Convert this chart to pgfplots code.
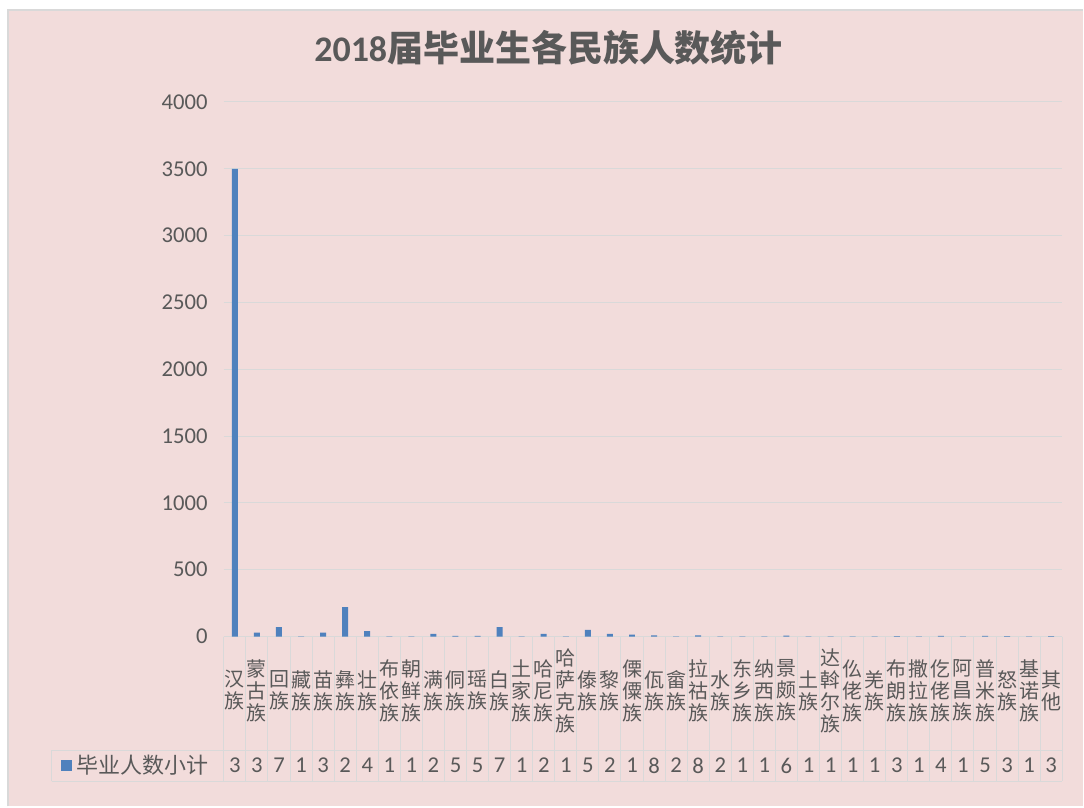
\documentclass[border=0pt]{standalone}
\usepackage{fontspec}
\usepackage{pgfplots}
\pgfplotsset{compat=1.18}
\setmainfont{Noto Sans CJK SC}
\newfontfamily\lat{Carlito}
\definecolor{bg}{RGB}{242,220,219}
\definecolor{barc}{RGB}{79,129,189}
\definecolor{txt}{RGB}{89,89,89}
\definecolor{gridc}{RGB}{217,217,217}
\begin{document}
\begin{tikzpicture}[x=0.75pt,y=0.75pt]
\fill[white] (0,0) rectangle (1084,807);
\fill[bg] (8,0) rectangle (1084,797);
\draw[gridc, line width=1.2pt] (8,0) -- (8,797) -- (1084,797);
\node[txt, font=\fontsize{27}{32}\selectfont\bfseries] at (549,759) {{\lat 2018}届毕业生各民族人数统计};
\begin{axis}[at={(168pt,127.5pt)}, anchor=south west, scale only axis,
  width=629.25pt, height=401.25pt,
  xmin=-0.5, xmax=37.5, ymin=0, ymax=4000,
  ytick={0,500,...,4000}, ymajorgrids,
  grid style={draw=gridc, line width=0.75pt},
  axis line style={draw=none}, major tick length=0pt,
  xtick={0,...,37},
  xticklabels={{汉\\族},{蒙\\古\\族},{回\\族},{藏\\族},{苗\\族},{彝\\族},{壮\\族},{布\\依\\族},{朝\\鲜\\族},{满\\族},{侗\\族},{瑶\\族},{白\\族},{土\\家\\族},{哈\\尼\\族},{哈\\萨\\克\\族},{傣\\族},{黎\\族},{傈\\僳\\族},{佤\\族},{畲\\族},{拉\\祜\\族},{水\\族},{东\\乡\\族},{纳\\西\\族},{景\\颇\\族},{土\\族},{达\\斡\\尔\\族},{仫\\佬\\族},{羌\\族},{布\\朗\\族},{撒\\拉\\族},{仡\\佬\\族},{阿\\昌\\族},{普\\米\\族},{怒\\族},{基\\诺\\族},{其\\他}},
  xticklabel style={align=center, anchor=center, yshift=-40.5pt, font=\fontsize{15}{16.5}\selectfont, text=txt, inner sep=0pt},
  yticklabel style={anchor=east, inner sep=0pt, xshift=-12pt, font=\lat\fontsize{17}{17}\selectfont, text=txt},
  /pgf/number format/assume math mode=true,
  /pgf/number format/set thousands separator={},
  ybar, bar width=4.5pt, clip=false]
\addplot[fill=barc, draw=none] coordinates {
(0,3500) (1,30) (2,70) (3,1) (4,30) (5,220) (6,40) (7,1) (8,1) (9,20)
(10,5) (11,5) (12,70) (13,1) (14,20) (15,1) (16,50) (17,20) (18,15) (19,8)
(20,2) (21,8) (22,2) (23,1) (24,1) (25,6) (26,1) (27,1) (28,1) (29,1)
(30,3) (31,1) (32,4) (33,1) (34,5) (35,3) (36,1) (37,3)};
\end{axis}
\foreach \k in {0,...,38} \draw[gridc, line width=0.75pt] ({224+22.0789*\k},170) -- ({224+22.0789*\k},25);
\draw[gridc, line width=0.75pt] (52,56) -- (1063,56);
\draw[gridc, line width=0.75pt] (52,25) -- (1063,25);
\draw[gridc, line width=0.75pt] (52,25) -- (52,56);
\fill[barc] (61,35) rectangle (72,46);
\node[txt, anchor=west, inner sep=0pt, font=\fontsize{16.5}{16.5}\selectfont] at (76,41) {毕业人数小计};
\foreach \d [count=\i from 0] in {3,3,7,1,3,2,4,1,1,2,5,5,7,1,2,1,5,2,1,8,2,8,2,1,1,6,1,1,1,1,3,1,4,1,5,3,1,3}
  \node[txt, inner sep=0pt, font=\lat\fontsize{17}{17}\selectfont] at ({224+22.0789*(\i+0.5)},41) {\d};
\end{tikzpicture}
\end{document}
